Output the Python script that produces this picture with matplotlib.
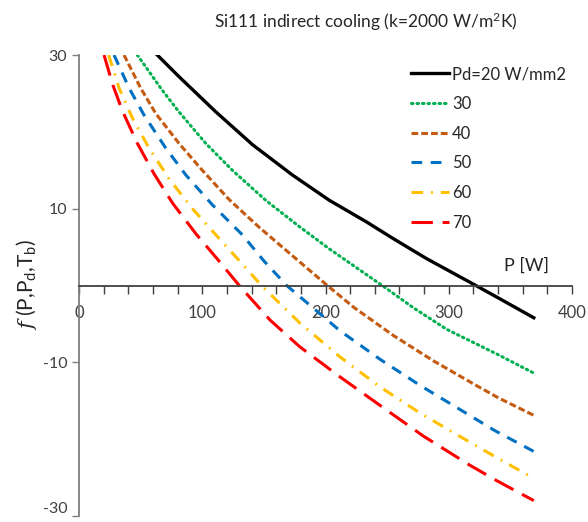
"""
Si111 indirect cooling: f(P, Pd, Tb) against absorbed power P for several
power densities Pd.
"""
import matplotlib
matplotlib.use('Agg')
import matplotlib.pyplot as plt

plt.rcParams['font.family'] = ['Lato', 'DejaVu Sans']
plt.rcParams['mathtext.fontset'] = 'custom'
plt.rcParams['mathtext.rm'] = 'Lato'
plt.rcParams['mathtext.it'] = 'DejaVu Serif:italic'
plt.rcParams['axes.unicode_minus'] = False

# values (P in W, f dimensionless)
p_20 = [63.5, 81, 111, 141, 173, 203, 233, 255, 282, 322, 340, 369]
f_20 = [30, 27.2, 22.6, 18.3, 14.4, 11.1, 8.3, 6.1, 3.5, 0, -1.6, -4.2]

p_30 = [47.3, 67.6, 81.1, 102.8, 124.4, 151.4, 178.5, 202.8, 246.9, 271.3, 298.3, 340, 369]
f_30 = [30, 25.4, 22.6, 18.5, 15.0, 11.1, 7.7, 4.8, -0.1, -2.9, -5.7, -9.0, -11.4]

p_40 = [36.5, 50, 62.2, 81.1, 100, 121.7, 146, 173, 201.5, 222.6, 255, 287.5, 320, 340, 369]
f_40 = [30, 25.7, 22.4, 18.5, 15.0, 11.2, 7.6, 3.9, 0, -2.8, -6.5, -9.8, -12.8, -14.6, -16.9]

p_50 = [28.4, 40.6, 52.7, 70.3, 86.6, 108.2, 132.5, 150, 168.5, 211.8, 244.2, 276.7, 311.8, 337.5, 369]
f_50 = [30, 25.7, 22.2, 17.9, 14.4, 10.5, 6.6, 3.2, 0, -5.9, -9.6, -13.0, -16.4, -18.9, -21.6]

p_60 = [24, 32.5, 43.3, 56.8, 73, 92, 111, 135.3, 148, 179.3, 211.8, 244.2, 276.7, 311.8, 338.9, 369]
f_60 = [30, 25.7, 21.8, 17.9, 13.9, 10.0, 6.6, 2.3, 0, -4.9, -9.3, -13.2, -16.6, -19.9, -22.4, -25.1]

p_70 = [20.3, 27, 35, 47, 61, 76, 95, 113, 130, 155, 179.3, 211.8, 244.2, 279.4, 317.2, 338.9, 369]
f_70 = [30, 26.3, 22.8, 18.6, 14.5, 10.7, 6.7, 3.3, 0, -4.5, -8.0, -11.9, -15.6, -19.6, -23.4, -25.4, -28.0]

labels = ['Pd=20 W/mm2', '30', '40', '50', '60', '70']


def plot_cooling_curves():
    """Draw the six f(P) curves in the Excel-like layout of the reference."""
    fig = plt.figure(figsize=(5.88, 5.22), dpi=100)
    ax = fig.add_axes([0.1344, 0.0115, 0.8384, 0.8831])

    ax.plot(p_20, f_20, color='black', lw=2.4, label=labels[0])
    ax.plot(p_30, f_30, color='#00B050', lw=2.2, linestyle=(0, (0.5, 1.3)),
            dash_capstyle='round', label=labels[1])
    ax.plot(p_40, f_40, color='#C55A11', lw=2.2, linestyle=(0, (2.2, 1.0)),
            label=labels[2])
    ax.plot(p_50, f_50, color='#0070C0', lw=2.2, linestyle=(0, (3.5, 2.8)),
            label=labels[3])
    ax.plot(p_60, f_60, color='#FFC000', lw=2.2,
            linestyle=(0, (3.8, 2.6, 0.6, 2.6)), label=labels[4])
    ax.plot(p_70, f_70, color='#FF0000', lw=2.2, linestyle=(0, (7.0, 3.2)),
            label=labels[5])

    ax.set_xlim(0, 400)
    ax.set_ylim(-30, 30)
    ax.set_xticks([0, 100, 200, 300, 400])
    ax.set_xticks(range(0, 401, 20), minor=True)
    ax.set_yticks([-30, -10, 10, 30])

    ax.spines['bottom'].set_position(('data', 0))
    ax.spines['top'].set_visible(False)
    ax.spines['right'].set_visible(False)
    ax.spines['left'].set_color('#7f7f7f')
    ax.spines['bottom'].set_color('#404040')
    ax.spines['left'].set_linewidth(1.3)
    ax.spines['bottom'].set_linewidth(1.3)

    ax.tick_params(axis='x', which='both', direction='out', length=6,
                   width=1.0, color='#404040', labelsize=12, pad=8,
                   labelcolor='#404040')
    ax.tick_params(axis='y', direction='out', length=5, width=1.0,
                   color='#7f7f7f', labelsize=11.5, labelcolor='#404040')
    # lowest label sits on the figure edge, pull it up a touch
    ax.get_yticklabels()[0].set_va('bottom')

    ax.text(345, 1.9, 'P [W]', fontsize=13, color='#262626')
    fig.text(0.045, 0.455, r'$f$ (P,P$_\mathregular{d}$,T$_\mathregular{b}$)',
             rotation=90, fontsize=15, color='#262626', ha='center', va='center')
    fig.text(0.622, 0.958, r'Si111 indirect cooling (k=2000 W/m$^\mathregular{2}$K)',
             fontsize=12.5, color='#262626', ha='center', va='center')

    leg = ax.legend(loc='upper left', bbox_to_anchor=(0.66, 0.99), frameon=False,
                    fontsize=12, handlelength=2.3, handletextpad=0.15,
                    labelspacing=0.82, borderaxespad=0)
    for txt in leg.get_texts():
        txt.set_color('#262626')

    fig.savefig('out.png', dpi=100)


plot_cooling_curves()
